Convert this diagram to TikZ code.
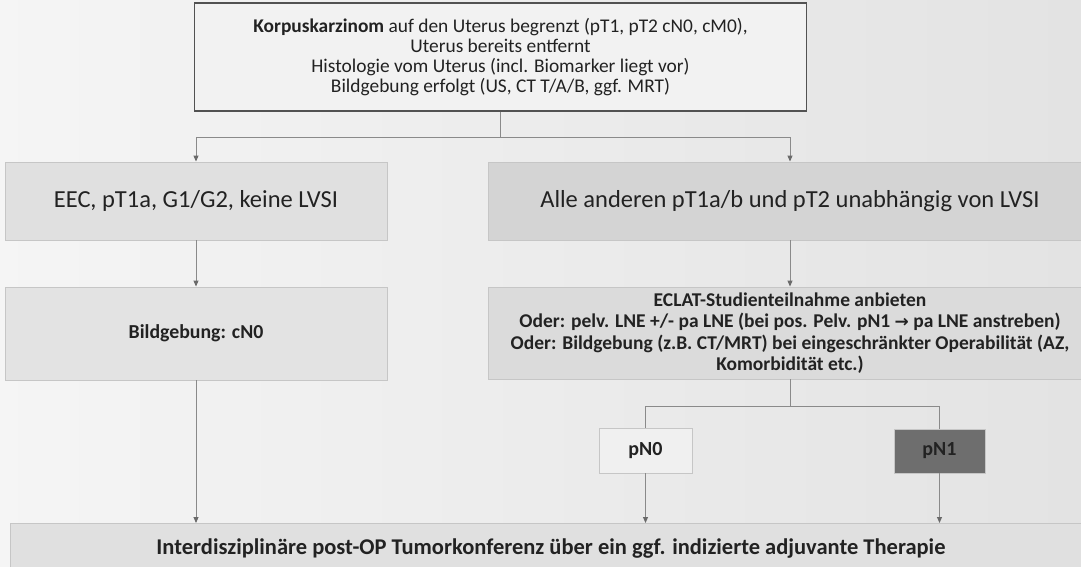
\documentclass[tikz,border=0pt]{standalone}
\usepackage{fontspec}
\setmainfont{Carlito}
\newfontfamily\arrowfont{DejaVu Sans}
\usetikzlibrary{arrows.meta,calc}

\definecolor{txt}{HTML}{222222}
\definecolor{edge}{HTML}{C6C6C6}
\definecolor{wire}{HTML}{8A8A8A}
\definecolor{tipc}{HTML}{6A6A6A}

\tikzset{
  box/.style={draw=edge, line width=0.9pt, text=txt, align=center, inner sep=0pt},
  wirestyle/.style={draw=wire, line width=0.9pt},
  arr/.style={wirestyle, -{Triangle[length=6pt,width=5pt,fill=tipc,color=tipc]}},
  fs/.style 2 args={font=\fontsize{#1}{#2}\selectfont}
}

\begin{document}
\begin{tikzpicture}[x=1pt, y=-1pt]
  % canvas
  \useasboundingbox (0,0) rectangle (1081,566);
  \clip (0,0) rectangle (1081,566);
  \shade[left color=white!96!black, right color=white!89!black] (0,0) rectangle (1081,566);

  % entry box
  \node[box, draw=black!68, line width=1.3pt, fill=white!95!black,
        minimum width=612pt, minimum height=108pt, fs={19.4}{19.8}]
    (top) at (500.5,57)
    {\textbf{Korpuskarzinom} auf den Uterus begrenzt (pT1, pT2 cN0, cM0),\\
     Uterus bereits entfernt\\
     Histologie vom Uterus (incl. Biomarker liegt vor)\\
     Bildgebung erfolgt (US, CT T/A/B, ggf. MRT)};

  % first split
  \node[box, fill=white!88!black, minimum width=382pt, minimum height=78pt, fs={24.5}{28}]
    (eec) at (196,201) {EEC, pT1a, G1/G2, keine LVSI};
  \node[box, fill=white!83!black, minimum width=604pt, minimum height=78pt, fs={24.5}{28}]
    (alle) at (790,201) {Alle anderen pT1a/b und pT2 unabhängig von LVSI};

  % second row
  \node[box, fill=white!89!black, minimum width=382pt, minimum height=93pt, fs={19.8}{22}]
    (bild) at (196,333.5) {\textbf{Bildgebung: cN0}};
  \node[box, fill=white!86!black, minimum width=604pt, minimum height=92pt, fs={19.5}{21.5}]
    (eclat) at (790,333)
    {\textbf{ECLAT-Studienteilnahme anbieten}\\
     \textbf{Oder: pelv. LNE +/- pa LNE (bei pos. Pelv. pN1 {\arrowfont\bfseries\fontsize{17}{17}\selectfont →} pa LNE anstreben)}\\
     \textbf{Oder: Bildgebung (z.B. CT/MRT) bei eingeschränkter Operabilität (AZ,}\\
     \textbf{Komorbidität etc.)}};

  % nodal status
  \node[box, fill=white!94!black, minimum width=93pt, minimum height=45pt, fs={20}{22}]
    (pn0) at (645.5,450.5) {\textbf{pN0}};
  \node[box, fill=black!57, minimum width=91pt, minimum height=44pt, fs={20}{22}]
    (pn1) at (939.5,451) {\textbf{pN1}};

  % tumour board
  \node[box, fill=white!88!black, minimum width=1082pt, minimum height=70pt,
        anchor=north, fs={22.5}{24}, text depth=0pt]
    (board) at (551,523) {\raisebox{24pt}{\textbf{Interdisziplinäre post-OP Tumorkonferenz über ein ggf. indizierte adjuvante Therapie}}};

  % connectors
  \coordinate (split1) at ($(top.south)+(0,26)$);
  \draw[wirestyle] (top.south) -- (split1);
  \draw[arr] (split1) -| (eec.north);
  \draw[arr] (split1) -| (alle.north);

  \draw[arr] (eec.south) -- (bild.north);
  \draw[arr] (alle.south) -- (eclat.north);

  \coordinate (split2) at ($(eclat.south)+(0,27)$);
  \draw[wirestyle] (eclat.south) -- (split2);
  \draw[wirestyle] (split2) -| (pn0.north);
  \draw[wirestyle] (split2) -| (pn1.north);

  \draw[arr] (bild.south) -- (bild.south |- board.north);
  \draw[arr] (pn0.south) -- (pn0.south |- board.north);
  \draw[arr] (pn1.south) -- (pn1.south |- board.north);
\end{tikzpicture}
\end{document}
